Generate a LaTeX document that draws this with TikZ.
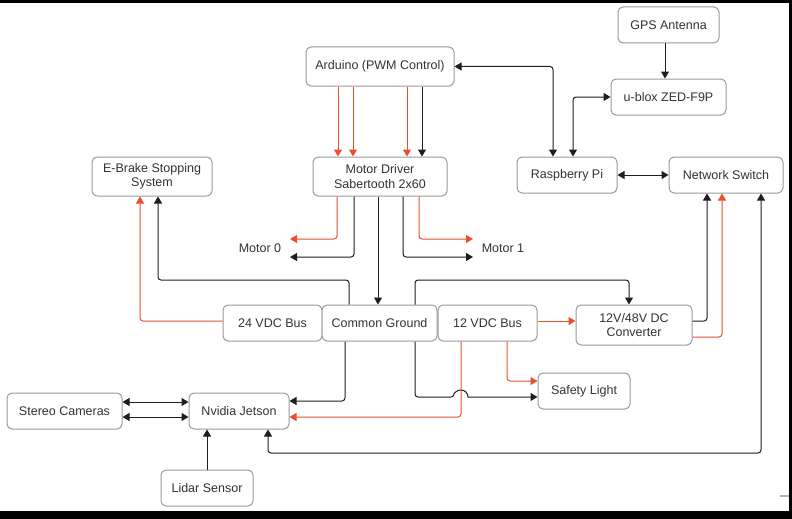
\documentclass[tikz,border=0pt]{standalone}
\usepackage{fontspec}
\setmainfont{Liberation Sans}
\usetikzlibrary{arrows.meta}
\definecolor{bordergray}{HTML}{9A9A9A}
\definecolor{txtgray}{HTML}{333333}
\definecolor{linkred}{HTML}{E8502E}
\definecolor{linkblack}{HTML}{1E1E1E}
\begin{document}
\begin{tikzpicture}[x=1pt,y=-1pt,
  box/.style={draw=bordergray,line width=1pt,rounded corners=5pt,fill=white,
    text=txtgray,align=center,inner sep=0pt,font=\fontsize{12.5}{14.5}\selectfont},
  lbl/.style={text=txtgray,inner sep=0pt,font=\fontsize{12.5}{14.5}\selectfont},
  blk/.style={draw=linkblack,line width=1pt,rounded corners=3pt,-{Triangle[length=7pt,width=8pt]}},
  blk2/.style={draw=linkblack,line width=1pt,rounded corners=3pt,{Triangle[length=7pt,width=8pt]}-{Triangle[length=7pt,width=8pt]}},
  rd/.style={draw=linkred,line width=1pt,rounded corners=3pt,-{Triangle[length=7pt,width=8pt]}}]
\useasboundingbox (0,0) rectangle (792,519);
\fill[white] (0,0) rectangle (792,519);
% nodes
\node[box,minimum width=148pt,minimum height=39pt] (ard) at (380,66.5) {Arduino (PWM Control)};
\node[box,minimum width=101pt,minimum height=36pt] (gps) at (668.5,25) {GPS Antenna};
\node[box,minimum width=115pt,minimum height=36pt] (ublox) at (668.5,97) {u-blox ZED-F9P};
\node[box,minimum width=100pt,minimum height=36pt] (rpi) at (567,175) {Raspberry Pi};
\node[box,minimum width=114pt,minimum height=36pt] (nsw) at (726,175) {Network Switch};
\node[box,minimum width=120pt,minimum height=39pt] (ebrake) at (152,176.5) {E-Brake Stopping\\System};
\node[box,minimum width=134pt,minimum height=39pt] (md) at (380,176.5) {Motor Driver\\Sabertooth 2x60};
\node[box,minimum width=99pt,minimum height=36pt] (bus24) at (272.5,323) {24 VDC Bus};
\node[box,minimum width=115pt,minimum height=36pt] (cg) at (379.5,323) {Common Ground};
\node[box,minimum width=99pt,minimum height=36pt] (bus12) at (487.5,323) {12 VDC Bus};
\node[box,minimum width=116pt,minimum height=40pt] (conv) at (634,325) {12V/48V DC\\Converter};
\node[box,minimum width=92pt,minimum height=36pt] (slight) at (584,391) {Safety Light};
\node[box,minimum width=115pt,minimum height=36pt] (stereo) at (64.5,411) {Stereo Cameras};
\node[box,minimum width=100pt,minimum height=36pt] (jetson) at (239,411) {Nvidia Jetson};
\node[box,minimum width=92pt,minimum height=36pt] (lidar) at (207,488) {Lidar Sensor};
\node[lbl] (motor0) at (260,248) {Motor 0};
\node[lbl] (motor1) at (503,248) {Motor 1};
\coordinate (m0r) at (290,239);
\coordinate (m0b) at (290,257);
\coordinate (m1r) at (473,239);
\coordinate (m1b) at (473,257);
% Arduino -> motor driver
\draw[rd] (ard.south -| 338,0) -- (md.north -| 338,0);
\draw[rd] (ard.south -| 353,0) -- (md.north -| 353,0);
\draw[rd] (ard.south -| 407,0) -- (md.north -| 407,0);
\draw[blk] (ard.south -| 422,0) -- (md.north -| 422,0);
% Arduino <-> RPi, ublox <-> RPi
\draw[blk2] (ard.east) -| (rpi.north -| 553,0);
\draw[blk2] (ublox.west) -| (rpi.north -| 573,0);
\draw[blk] (gps.south -| 665,0) -- (ublox.north -| 665,0);
\draw[blk2] (rpi.east) -- (nsw.west);
% motor outputs
\draw[rd] (md.south -| 337,0) |- (m0r);
\draw[blk] (md.south -| 354,0) |- (m0b);
\draw[blk] (md.south -| 378,0) -- (cg.north -| 378,0);
\draw[blk] (md.south -| 403,0) |- (m1b);
\draw[rd] (md.south -| 419,0) |- (m1r);
% ground / buses
\draw[blk] (cg.north -| 349,0) -- (349,280) -| (ebrake.south -| 158,0);
\draw[rd] (bus24.west |- 0,321) -| (ebrake.south -| 140,0);
\draw[blk] (cg.north -| 415,0) -- (415,280) -| (conv.north -| 629,0);
\draw[blk] (cg.south -| 345,0) |- (jetson.east |- 0,401);
\draw[blk] (cg.south -| 415,0) -- (415,397) -- (454,397)
  {[sharp corners] arc[start angle=180,end angle=0,radius=7pt]} -- (slight.west |- 0,397);
\draw[rd] (bus12.south -| 461,0) |- (jetson.east |- 0,417);
\draw[rd] (bus12.south -| 507,0) |- (slight.west |- 0,381);
\draw[rd] (bus12.east |- 0,321) -- (conv.west |- 0,321);
\draw[blk] (conv.east |- 0,321) -| (nsw.south -| 707,0);
\draw[rd] (conv.east |- 0,337) -| (nsw.south -| 722,0);
% Jetson links
\draw[blk2] (jetson.south -| 268,0) -- (268,453) -| (nsw.south -| 761,0);
\draw[blk2] (stereo.east |- 0,402) -- (jetson.west |- 0,402);
\draw[blk2] (stereo.east |- 0,417) -- (jetson.west |- 0,417);
\draw[blk] (lidar.north -| 207,0) -- (jetson.south -| 207,0);
% frame bands
\fill[black] (0,0) rectangle (792,3);
\fill[black] (0,511) rectangle (792,519);
\fill[black] (789,0) rectangle (792,519);
\draw[gray!60,line width=2pt] (780,496) -- (789,496);
\end{tikzpicture}
\end{document}
